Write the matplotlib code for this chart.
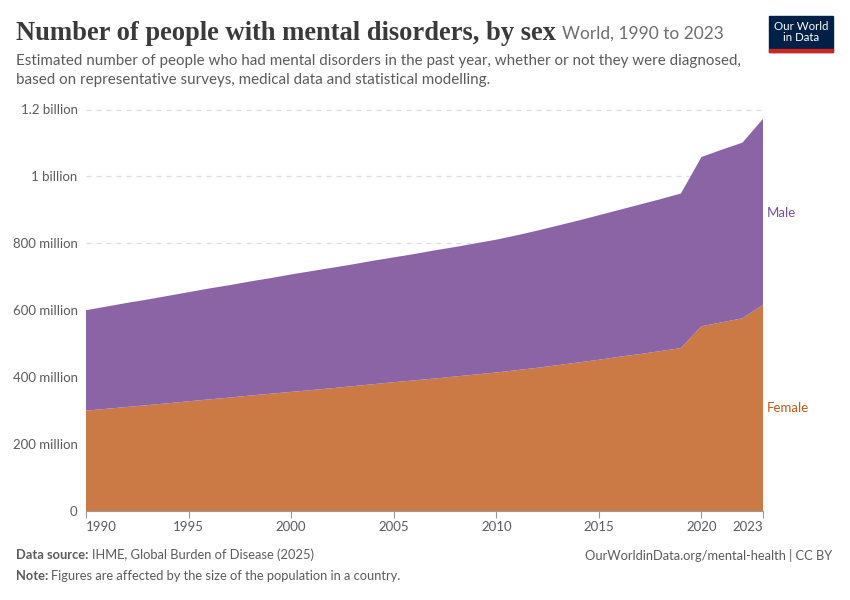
import matplotlib.pyplot as plt
from matplotlib.patches import Rectangle

years = list(range(1990, 2024))
female = [300, 305.5, 311, 316.5, 322, 328, 333.5, 339, 345, 350.5,
          356, 361.5, 367, 373, 379, 385, 390.5, 396, 402, 408,
          414, 421, 428, 436, 444, 452, 461, 469, 478, 487,
          552, 564, 576, 616]
male = [300, 305.5, 311, 315.5, 321, 326, 331.5, 336, 341, 345.5,
        351, 355.5, 360, 364, 369, 373, 377.5, 383, 387, 392,
        397, 403, 410, 417, 424, 432, 439, 447, 454, 462,
        506, 516, 525, 556]
series_names = ['Female', 'Male']
y_ticks = [0, 200, 400, 600, 800, 1000, 1200]
y_labels = ['0', '200 million', '400 million', '600 million', '800 million',
            '1 billion', '1.2 billion']
x_ticks = [1990, 1995, 2000, 2005, 2010, 2015, 2020, 2023]

fill_colors = ['#cc7a45', '#8a64a5']
label_colors = ['#c05a17', '#7650a0']
grey = '#5b5b5b'

plt.rcParams['font.family'] = ['Lato', 'DejaVu Sans']

fig = plt.figure(figsize=(8.5, 6), dpi=100)
ax = fig.add_axes([86 / 850, 1 - 511 / 600, (763 - 86) / 850, (511 - 109.5) / 600])

ax.stackplot(years, female, male, colors=fill_colors, linewidth=0, zorder=2)
ax.set_xlim(1990, 2023)
ax.set_ylim(0, 1200)

for t in y_ticks[1:]:
    ax.axhline(t, color='#dddddd', linestyle=(0, (4, 4)), linewidth=0.9, zorder=1, clip_on=False)

ax.set_yticks(y_ticks)
ax.set_yticklabels(y_labels)
ax.set_xticks(x_ticks)
ax.set_xticklabels([str(x) for x in x_ticks])
ax.tick_params(axis='y', length=0, labelsize=9.5, labelcolor=grey, pad=6)
ax.tick_params(axis='x', length=5, color='#999999', labelsize=9.5, labelcolor=grey, pad=2)
xl = ax.get_xticklabels()
xl[0].set_horizontalalignment('left')
xl[-1].set_horizontalalignment('right')
for side in ['top', 'right', 'left']:
    ax.spines[side].set_visible(False)
ax.spines['bottom'].set_color('#999999')

# series labels at the right end
ax.text(2023.2, 890, series_names[1], color=label_colors[1], fontsize=9.5, va='center', ha='left')
ax.text(2023.2, 308, series_names[0], color=label_colors[0], fontsize=9.5, va='center', ha='left')

# title block
title = fig.text(16 / 850, 1 - 33 / 600, 'Number of people with mental disorders, by sex',
                 family=['Liberation Serif', 'DejaVu Serif'], fontsize=19.1, weight='bold',
                 color='#3a3a3a', va='center')
fig.canvas.draw()
bb = title.get_window_extent()
fig.text((bb.x1 + 6) / 850, 1 - 34 / 600, 'World, 1990 to 2023', fontsize=12.5, color='#6e6e6e', va='center')
fig.text(16 / 850, 1 - 61 / 600,
         'Estimated number of people who had mental disorders in the past year, whether or not they were diagnosed,',
         fontsize=10.9, color=grey, va='center')
fig.text(16 / 850, 1 - 80 / 600, 'based on representative surveys, medical data and statistical modelling.',
         fontsize=10.9, color=grey, va='center')

# logo
fig.patches.append(Rectangle((769 / 850, 1 - 52 / 600), 64 / 850, 36 / 600,
                             transform=fig.transFigure, color='#002147'))
fig.patches.append(Rectangle((769 / 850, 1 - 52 / 600), 64 / 850, 3 / 600,
                             transform=fig.transFigure, color='#ce261e'))
fig.text(801 / 850, 1 - 32 / 600, 'Our World\nin Data', color='white', fontsize=8.3,
         ha='center', va='center', linespacing=1.0)

# footer
fs = 9.3
src = fig.text(16 / 850, 1 - 555 / 600, 'Data source:', fontsize=fs, weight='bold', color=grey, va='center')
note = fig.text(16 / 850, 1 - 576 / 600, 'Note:', fontsize=fs, weight='bold', color=grey, va='center')
fig.canvas.draw()
b1 = src.get_window_extent()
b2 = note.get_window_extent()
fig.text((b1.x1 + 3) / 850, 1 - 555 / 600, 'IHME, Global Burden of Disease (2025)',
         fontsize=fs, color=grey, va='center')
fig.text((b2.x1 + 3) / 850, 1 - 576 / 600,
         'Figures are affected by the size of the population in a country.',
         fontsize=fs, color=grey, va='center')
fig.text(832 / 850, 1 - 555 / 600, 'OurWorldinData.org/mental-health | CC BY',
         fontsize=fs, color=grey, va='center', ha='right')

fig.savefig('out.png', dpi=100)
